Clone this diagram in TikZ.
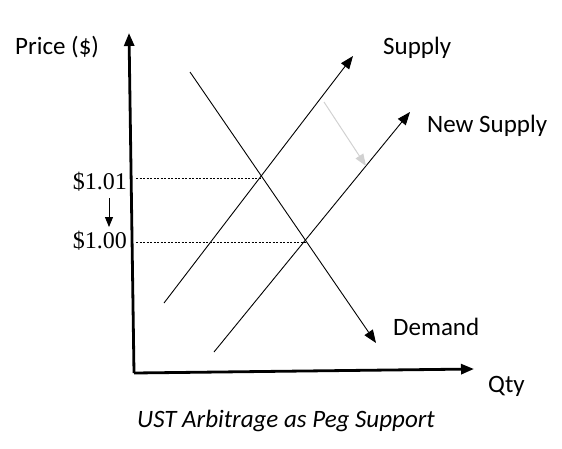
\documentclass[tikz,border=0pt]{standalone}
\usepackage{fontspec}
\setmainfont{Carlito}
\newfontfamily\numfont{Liberation Serif}
\usetikzlibrary{arrows.meta}
\begin{document}
\begin{tikzpicture}[x=1pt,y=-1pt,
  axis/.style={line width=2.8pt,-{Triangle[length=13pt,width=10pt]}},
  curve/.style={line width=0.9pt,-{Triangle[length=13pt,width=10pt]}},
  guide/.style={line width=0.6pt,dash pattern=on 2pt off 1.5pt},
  shiftarrow/.style={line width=1pt,draw=black!18,-{Triangle[length=12pt,width=9pt,fill=black!18]}},
  lbl/.style={font=\fontsize{25}{28}\selectfont,anchor=base west,inner sep=0pt},
  price/.style={font=\numfont\fontsize{24}{26}\selectfont,anchor=base east,inner sep=0pt}]
\useasboundingbox (0,0) rectangle (562,448);
% axes
\coordinate (O) at (134,373);
\coordinate (ytop) at (129,33);
\coordinate (xend) at (474,369);
\draw[axis] (O) -- (ytop);
\draw[axis] (O) -- (xend);
% curves
\coordinate (s1) at (164,303);
\coordinate (s2) at (353,56);
\coordinate (n1) at (214,352);
\coordinate (n2) at (410,112);
\coordinate (d1) at (190,72);
\coordinate (d2) at (376,343);
\draw[curve] (s1) -- (s2);
\draw[curve] (n1) -- (n2);
\draw[curve] (d1) -- (d2);
% equilibria
\coordinate (e1) at (261.5,178);
\coordinate (e2) at (305.5,242);
\coordinate (a1) at (136,178);
\coordinate (a2) at (136,242);
\draw[guide] (a1) -- (e1);
\draw[guide] (a2) -- (e2);
% shift arrow
\coordinate (g1) at (324,102);
\coordinate (g2) at (366,166);
\draw[shiftarrow] (g1) -- (g2);
% labels
\node[lbl] (price) at (15,54) {Price (\$)};
\node[lbl] (supply) at (383,54) {Supply};
\node[lbl] (newsupply) at (427,132) {New Supply};
\node[lbl] (demand) at (393,335) {Demand};
\node[lbl] (qty) at (488,392) {Qty};
\node[lbl,font=\itshape\fontsize{25}{28}\selectfont] (caption) at (137,427) {UST Arbitrage as Peg Support};
\node[price] (p101) at (127,189) {\$1.01};
\node[price] (p100) at (127,248) {\$1.00};
\coordinate (m1) at (109,198);
\coordinate (m2) at (109,227);
\draw[line width=0.9pt,-{Triangle[length=10pt,width=8pt]}] (m1) -- (m2);
\end{tikzpicture}
\end{document}
